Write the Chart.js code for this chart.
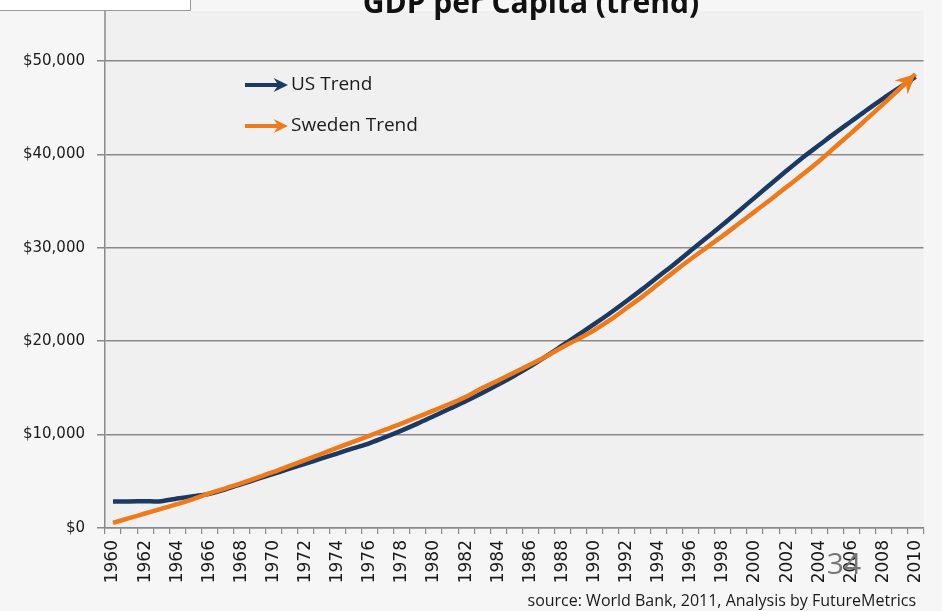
<!DOCTYPE html>
<html>
<head>
<meta charset="utf-8">
<script src="https://cdn.jsdelivr.net/npm/chart.js@4"></script>
<style>
  html, body { margin: 0; padding: 0; background: #f6f6f6; }
  #wrap { width: 942px; height: 611px; position: relative; }
</style>
</head>
<body>
<div id="wrap"><canvas id="gdpCanvas"></canvas></div>
<script>
// GDP per capita trend, US vs Sweden
const years = [];
for (let y = 1960; y <= 2010; y++) years.push(String(y));

const usTrend = [
  2850, 2850, 2860, 2870, 3150, 3400, 3650, 4150, 4700, 5250,
  5800, 6350, 6900, 7450, 8000, 8550, 9100, 9750, 10450, 11200,
  12000, 12800, 13600, 14450, 15350, 16300, 17300, 18400, 19550, 20700,
  21850, 23050, 24300, 25600, 26950, 28300, 29700, 31100, 32500, 33950,
  35400, 36850, 38300, 39700, 41000, 42300, 43550, 44800, 46000, 47150,
  48300
];
const swedenTrend = [
  550, 1050, 1550, 2050, 2550, 3100, 3700, 4250, 4800, 5400,
  6000, 6650, 7300, 7950, 8600, 9250, 9900, 10550, 11200, 11900,
  12600, 13300, 14050, 15000, 15800, 16650, 17500, 18400, 19350, 20250,
  21200, 22300, 23550, 24800, 26150, 27500, 28800, 30050, 31300, 32600,
  33900, 35200, 36550, 37900, 39300, 40800, 42300, 43850, 45400, 47000,
  48600
];
const seriesLabels = ['US Trend', 'Sweden Trend'];
const seriesColors = ['#1b3a63', '#ee7a1c'];
const yTicks = [0, 10000, 20000, 30000, 40000, 50000];

const fontName = "'Open Sans', 'DejaVu Sans', sans-serif";
const tickFont = "'DejaVu Sans', sans-serif";

function arrowHead(ctx, x, y, fromX, fromY, size, color) {
    const ang = Math.atan2(y - fromY, x - fromX);
    ctx.save();
    ctx.fillStyle = color;
    ctx.beginPath();
    ctx.moveTo(x, y);
    ctx.lineTo(x - size * Math.cos(ang - 0.45), y - size * Math.sin(ang - 0.45));
    ctx.lineTo(x - size * 0.6 * Math.cos(ang), y - size * 0.6 * Math.sin(ang));
    ctx.lineTo(x - size * Math.cos(ang + 0.45), y - size * Math.sin(ang + 0.45));
    ctx.closePath();
    ctx.fill();
    ctx.restore();
}

const decorPlugin = {
    id: 'decor',
    beforeDraw(chart) {
        const { ctx, chartArea: a } = chart;
        ctx.save();
        ctx.fillStyle = '#f6f6f6';
        ctx.fillRect(0, 0, chart.width, chart.height);
        ctx.fillStyle = '#f0f0f0';
        ctx.fillRect(a.left, a.top - 50, a.right - a.left, a.bottom - a.top + 50);
        ctx.restore();
    },
    afterDatasetsDraw(chart) {
        const { ctx } = chart;
        // arrow heads at the line ends, US first so Sweden sits on top
        [0, 1].forEach(idx => {
            const pts = chart.getDatasetMeta(idx).data;
            const last = pts[pts.length - 1], prev = pts[pts.length - 2];
            arrowHead(ctx, last.x, last.y, prev.x, prev.y, idx === 0 ? 16 : 22, chart.data.datasets[idx].borderColor);
        });
    },
    afterDraw(chart) {
        const { ctx, chartArea: a } = chart;
        ctx.save();
        // left axis line continues up past the plot
        ctx.strokeStyle = '#8a8a8a';
        ctx.lineWidth = 1.5;
        ctx.beginPath();
        ctx.moveTo(a.left, 11);
        ctx.lineTo(a.left, a.top);
        ctx.stroke();
        // small box top-left
        ctx.fillStyle = '#ffffff';
        ctx.fillRect(0, 0, 190, 10);
        ctx.strokeStyle = '#9a9a9a';
        ctx.lineWidth = 1;
        ctx.strokeRect(-1, -1, 191.5, 11.5);

        // title (top clipped)
        ctx.fillStyle = '#111111';
        ctx.font = `bold 30px ${fontName}`;
        ctx.textAlign = 'center';
        ctx.textBaseline = 'alphabetic';
        ctx.fillText('GDP per Capita (trend)', 531, 13);

        // legend with arrows
        ctx.font = `19px ${fontName}`;
        ctx.textAlign = 'left';
        ctx.textBaseline = 'middle';
        const legendY = [85, 126];
        chart.data.datasets.forEach((ds, i) => {
            const y = legendY[i];
            ctx.strokeStyle = ds.borderColor;
            ctx.lineWidth = 4;
            ctx.beginPath();
            ctx.moveTo(245, y);
            ctx.lineTo(280, y);
            ctx.stroke();
            arrowHead(ctx, 288, y, 245, y, 16, ds.borderColor);
            ctx.fillStyle = '#1a1a1a';
            ctx.fillText(ds.label, 291, y);
        });

        // slide number and source note
        ctx.fillStyle = '#777777';
        ctx.font = `30px ${fontName}`;
        ctx.textAlign = 'center';
        ctx.fillText('34', 844, 565);
        ctx.fillStyle = '#1a1a1a';
        ctx.font = `16px ${fontName}`;
        ctx.textAlign = 'right';
        ctx.fillText('source: World Bank, 2011, Analysis by FutureMetrics', 916, 601);
        ctx.restore();
    }
};

const ctx = document.getElementById('gdpCanvas').getContext('2d');
new Chart(ctx, {
    type: 'line',
    data: {
        labels: years,
        datasets: [
            { label: seriesLabels[0], data: usTrend, borderColor: seriesColors[0], borderWidth: 4.5, pointRadius: 0, tension: 0.3, order: 1, borderCapStyle: 'butt' },
            { label: seriesLabels[1], data: swedenTrend, borderColor: seriesColors[1], borderWidth: 4.5, pointRadius: 0, tension: 0.3, order: 0, borderCapStyle: 'butt' }
        ]
    },
    options: {
        responsive: true,
        maintainAspectRatio: false,
        animation: false,
        layout: { padding: { left: 0, right: 7, top: 61, bottom: 0 } },
        plugins: { legend: { display: false }, tooltip: { enabled: false } },
        scales: {
            x: {
                offset: true,
                grid: { offset: true, drawOnChartArea: false, drawTicks: true, tickLength: 6, color: '#8a8a8a', lineWidth: 1.2 },
                border: { display: true, color: '#8a8a8a', width: 1.5 },
                ticks: {
                    autoSkip: false, maxRotation: 90, minRotation: 90, padding: 6,
                    color: '#1a1a1a', font: { family: tickFont, size: 17 },
                    callback: (v, i) => (i % 2 === 0 ? years[i] : '')
                },
                afterFit: s => { s.height = 83; }
            },
            y: {
                min: 0, max: 50000,
                afterBuildTicks: s => { s.ticks = yTicks.map(v => ({ value: v })); },
                grid: { color: '#8a8a8a', lineWidth: 1.5, tickLength: 8 },
                border: { display: true, color: '#8a8a8a', width: 1.5 },
                ticks: {
                    padding: 12, color: '#1a1a1a', font: { family: tickFont, size: 15 },
                    callback: v => '$' + v.toLocaleString('en-US')
                },
                afterFit: s => { s.width = 105; }
            }
        }
    },
    plugins: [decorPlugin]
});
</script>
</body>
</html>
